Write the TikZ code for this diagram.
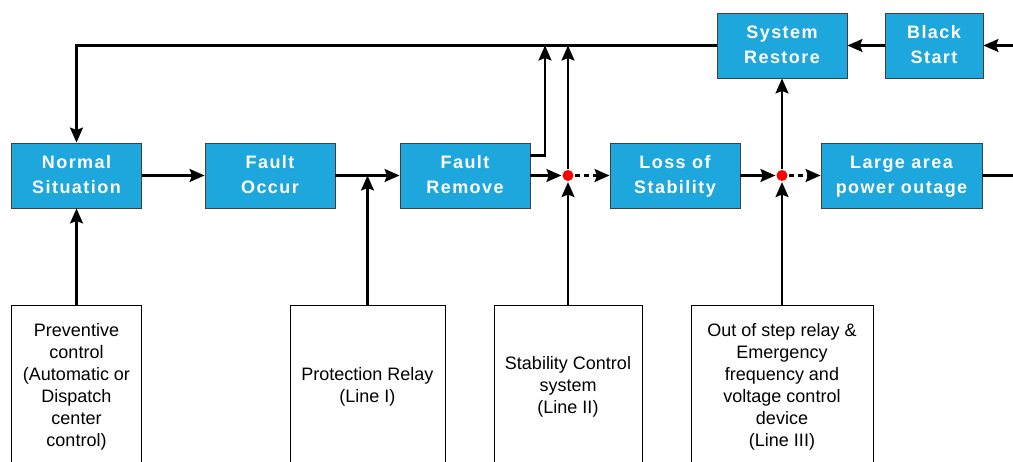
\documentclass[tikz,border=0pt]{standalone}
\usepackage{fontspec}
\setmainfont{Liberation Sans}
\newfontfamily\blockfont{Liberation Sans}[LetterSpace=8]
\usetikzlibrary{arrows.meta, positioning}
\definecolor{blockBlue}{RGB}{30,167,221}
\definecolor{edgeGray}{gray}{0.25}

\begin{document}
\begin{tikzpicture}[x=1pt, y=1pt, line width=2.2pt,
    >={Stealth[length=15pt, width=13pt, inset=2.5pt]},
    block/.style={draw=edgeGray, line width=0.9pt, fill=blockBlue, text=white,
        minimum width=130pt, minimum height=65pt, align=center, inner sep=0pt,
        font=\blockfont\bfseries\fontsize{18}{25}\selectfont,
        execute at begin node=\rule{0pt}{43.5pt}, execute at end node=\strut},
    ctrl/.style={draw=black, line width=0.9pt, fill=white, minimum height=167pt,
        align=center, inner sep=0pt, font=\fontsize{18}{22}\selectfont,
        execute at begin node=\strut, execute at end node=\strut},
    junction/.style={circle, fill=red, inner sep=0pt, minimum size=11pt},
    dashline/.style={dash pattern=on 5pt off 4pt}]
    \useasboundingbox (0,0) rectangle (1013,462);

    % Event chain
    \node[block] (norm) at (76.5,286.5) {Normal\\Situation};
    \node[block] (occur) at (270,286.5) {Fault\\Occur};
    \node[block] (remove) at (465,286.5) {Fault\\Remove};
    \node[block] (loss) at (675,286.5) {Loss of\\Stability};
    \node[block, minimum width=161pt] (outage) at (901.5,286.5) {Large area\\power outage};
    \node[block] (restore) at (782,416.5) {System\\Restore};
    \node[block, minimum width=98pt] (black) at (934,416.5) {Black\\Start};

    % Control lines
    \node[ctrl, minimum width=130pt] (prev) at (76.5,73.5) {Preventive\\control\\(Automatic or\\Dispatch\\center\\control)};
    \node[ctrl, minimum width=155pt] (prot) at (367.5,73.5) {Protection Relay\\(Line I)};
    \node[ctrl, minimum width=148pt] (stab) at (568,73.5) {Stability Control\\system\\(Line II)};
    \node[ctrl, minimum width=182pt] (oos) at (782,73.5) {Out of step relay \&\\Emergency\\frequency and\\voltage  control\\device\\(Line III)};

    % Junctions
    \node[junction] (j1) at (568,286.5) {};
    \node[junction] (j2) at (782,286.5) {};

    \coordinate (rmOut) at ([yshift=20pt]remove.east);
    \coordinate (rmUp) at (545,416.5);
    \coordinate (j1Up) at (j1 |- restore);
    \coordinate (inBlack) at (1020,416.5);
    \coordinate (outRight) at (1020,286.5);

    % Connectors
    \draw[->] (norm) -- (occur);
    \draw[->] (occur) -- (remove);
    \draw[->] (prev) -- (norm);
    \draw[->] (prot) -- (prot |- occur.east);
    \draw[->] (remove) -- (j1);
    \draw[->, dashline] (j1) -- (loss);
    \draw[->] (stab) -- (j1);
    \draw[->] (j1) -- (j1Up);
    \draw[->] (rmOut) -| (rmUp);
    \draw[->] (restore) -| (norm);
    \draw[->] (loss) -- (j2);
    \draw[->, dashline] (j2) -- (outage);
    \draw[->] (oos) -- (j2);
    \draw[->] (j2) -- (restore);
    \draw[->] (black) -- (restore);
    \draw[->] (inBlack) -- (black);
    \draw (outage) -- (outRight);
\end{tikzpicture}
\end{document}
